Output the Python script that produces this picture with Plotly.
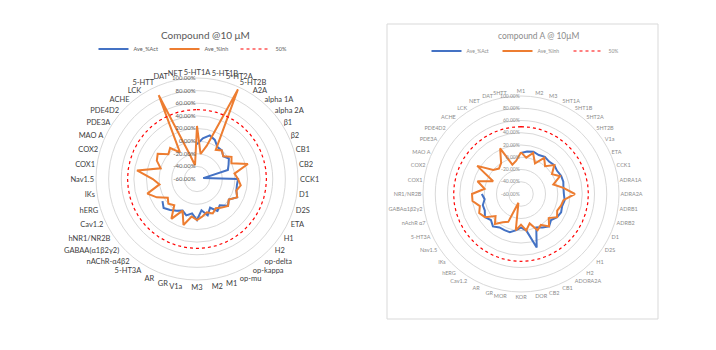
import plotly.graph_objects as go

# ---------------- Left chart data ----------------
left_cats = ["5-HT1A", "5-HT1B", "5-HT2A", "5-HT2B", "A2A", "alpha 1A", "alpha 2A", "β1", "β2",
             "CB1", "CB2", "CCK1", "D1", "D2S", "ETA", "H1", "H2", "op-delta", "op-kappa", "op-mu",
             "M1", "M2", "M3", "V1a", "GR", "AR", "5-HT3A", "nAChR-α4β2", "GABAA(α1β2γ2)",
             "hNR1/NR2B", "Cav1.2", "hERG", "IKs", "Nav1.5", "COX1", "COX2", "MAO A", "PDE3A",
             "PDE4D2", "ACHE", "LCK", "5-HTT", "DAT", "NET"]
left_act = [-5, 5, 12, 8, 0, 0, -5, 0, -5, -9, -50, 5, 4, 5, 10, 0, 5, -5, 0, -10,
            0, -10, 5, -5, 0, -5, 0, 5, 10, 5,
            None, None, None, None, None, None, None, None, None, None, None, None, None, None]
left_inh = [24, -20, -5, 96, -5, 0, -5, 5, 0, 24, 0, 5, 10, 5, 10, 0, 5, 0, -5, 0,
            -5, 0, 5, 0, 16, -5, 15, -5, 0, -5, 10, 22, 0, 10, 36, 0, 10, 14,
            0, 5, -10, 86, -20, -38]

# ---------------- Right chart data ----------------
right_cats = ["M1", "M2", "M3", "5HT1A", "5HT1B", "5HT2A", "5HT2B", "V1a", "ETA", "CCK1",
              "ADRA1A", "ADRA2A", "ADRB1", "ADRB2", "D1", "D2S", "H1", "H2", "ADORA2A", "CB1",
              "CB2", "DOR", "KOR", "MOR", "GR", "AR", "Cav1.2", "hERG", "IKs", "Nav1.5",
              "5-HT3A", "nAchR α7", "GABAα1β2γ2", "NR1/NR2B", "COX1", "COX2", "MAO A", "PDE3A",
              "PDE4D2", "ACHE", "LCK", "NET", "DAT", "5HTT"]
right_act = [7, 10, 12, 10, 12, 10, 12, 10, 12, 12, 10, 10, 12, 10, 12, 10, 5, 10, 5, 0,
             31, 0, -5, 0, 5, 5, 5, 10, 5, 10, 5, 5, 0, 4,
             None, None, None, None, None, None, None, None, None, None]
right_inh = [8, 0, 10, -5, 10, 0, 12, 0, 10, -5, 10, 28, 10, 8, 5, 10, 0, 10, 0, 5,
             -10, 0, -10, 0, -45, -10, -5, 5, -5, 10, 15, 10, 20, 20, 0, 14, -10, 25,
             0, -5, 0, 22, -10, -5]

threshold = 50
r_ticks = [-60, -40, -20, 0, 20, 40, 60, 80, 100]
r_ticktext = ["%.2f%%" % v for v in r_ticks]

BLUE = "#4472C4"
ORANGE = "#ED7D31"
RED = "#FF0000"

W, H = 716, 350


def closed(vals):
    return list(vals) + [vals[0]]


def dom(cx, cy, R):
    return dict(x=[(cx - R) / W, (cx + R) / W], y=[(H - cy - R) / H, (H - cy + R) / H])


fig = go.Figure()

for cats, act, inh, sub, leg in [(left_cats, left_act, left_inh, "polar", "legend"),
                                 (right_cats, right_act, right_inh, "polar2", "legend2")]:
    th = closed(cats)
    fig.add_trace(go.Scatterpolar(r=closed(act), theta=th, mode="lines", name="Ave_%Act",
                                  line=dict(color=BLUE, width=2), subplot=sub, legend=leg,
                                  connectgaps=False))
    fig.add_trace(go.Scatterpolar(r=closed(inh), theta=th, mode="lines", name="Ave_%Inh",
                                  line=dict(color=ORANGE, width=2), subplot=sub, legend=leg))
    fig.add_trace(go.Scatterpolar(r=closed([threshold] * len(cats)), theta=th, mode="lines",
                                  name="50%", line=dict(color=RED, width=1.2, dash="dot"),
                                  subplot=sub, legend=leg))


def polar_cfg(cx, cy, R, cats, labsize, labcolor, ticksize, tickcolor):
    return dict(
        domain=dom(cx, cy, R),
        bgcolor="white",
        angularaxis=dict(type="category", categoryarray=cats, rotation=90, direction="clockwise",
                         showgrid=False, showline=True, linecolor="#d9d9d9", linewidth=1,
                         ticks="", tickfont=dict(size=labsize, color=labcolor, family="Lato")),
        radialaxis=dict(range=[-60, 100], tickvals=r_ticks, ticktext=r_ticktext, angle=90,
                        tickangle=90, side="counterclockwise", showline=False, ticks="",
                        gridcolor="#d9d9d9", gridwidth=1,
                        tickfont=dict(size=ticksize, color=tickcolor, family="Lato")),
    )


fig.update_layout(
    width=W, height=H, margin=dict(l=0, r=0, t=0, b=0),
    paper_bgcolor="white", plot_bgcolor="white",
    polar=polar_cfg(197, 179, 101, left_cats, 7.5, "#404040", 6, "#595959"),
    polar2=polar_cfg(521, 194, 98, right_cats, 5.5, "#8c8c8c", 5, "#8c8c8c"),
    legend=dict(orientation="h", x=200 / W, y=1 - 49 / H, xanchor="center", yanchor="middle",
                font=dict(size=5.5, color="#595959", family="Lato"), itemwidth=30,
                entrywidthmode="pixels", entrywidth=26,
                bgcolor="rgba(0,0,0,0)", tracegroupgap=0),
    legend2=dict(orientation="h", x=533 / W, y=1 - 51 / H, xanchor="center", yanchor="middle",
                 font=dict(size=5, color="#8c8c8c", family="Lato"), itemwidth=30,
                 entrywidthmode="pixels", entrywidth=26,
                 bgcolor="rgba(0,0,0,0)"),
    annotations=[
        dict(text="Compound @10 μM", x=205 / W, y=1 - 35 / H, xref="paper", yref="paper",
             xanchor="center", yanchor="middle",
             showarrow=False, font=dict(size=10, color="#595959", family="Lato")),
        dict(text="compound A @ 10μM", x=538 / W, y=1 - 36 / H, xref="paper", yref="paper",
             xanchor="center", yanchor="middle",
             showarrow=False, font=dict(size=8.5, color="#8c8c8c", family="Lato")),
    ],
    shapes=[dict(type="rect", xref="paper", yref="paper", x0=387 / W, x1=658 / W,
                 y0=1 - 319 / H, y1=1 - 24 / H, line=dict(color="#d9d9d9", width=1))],
    showlegend=True,
)

fig.write_html("out.html")
